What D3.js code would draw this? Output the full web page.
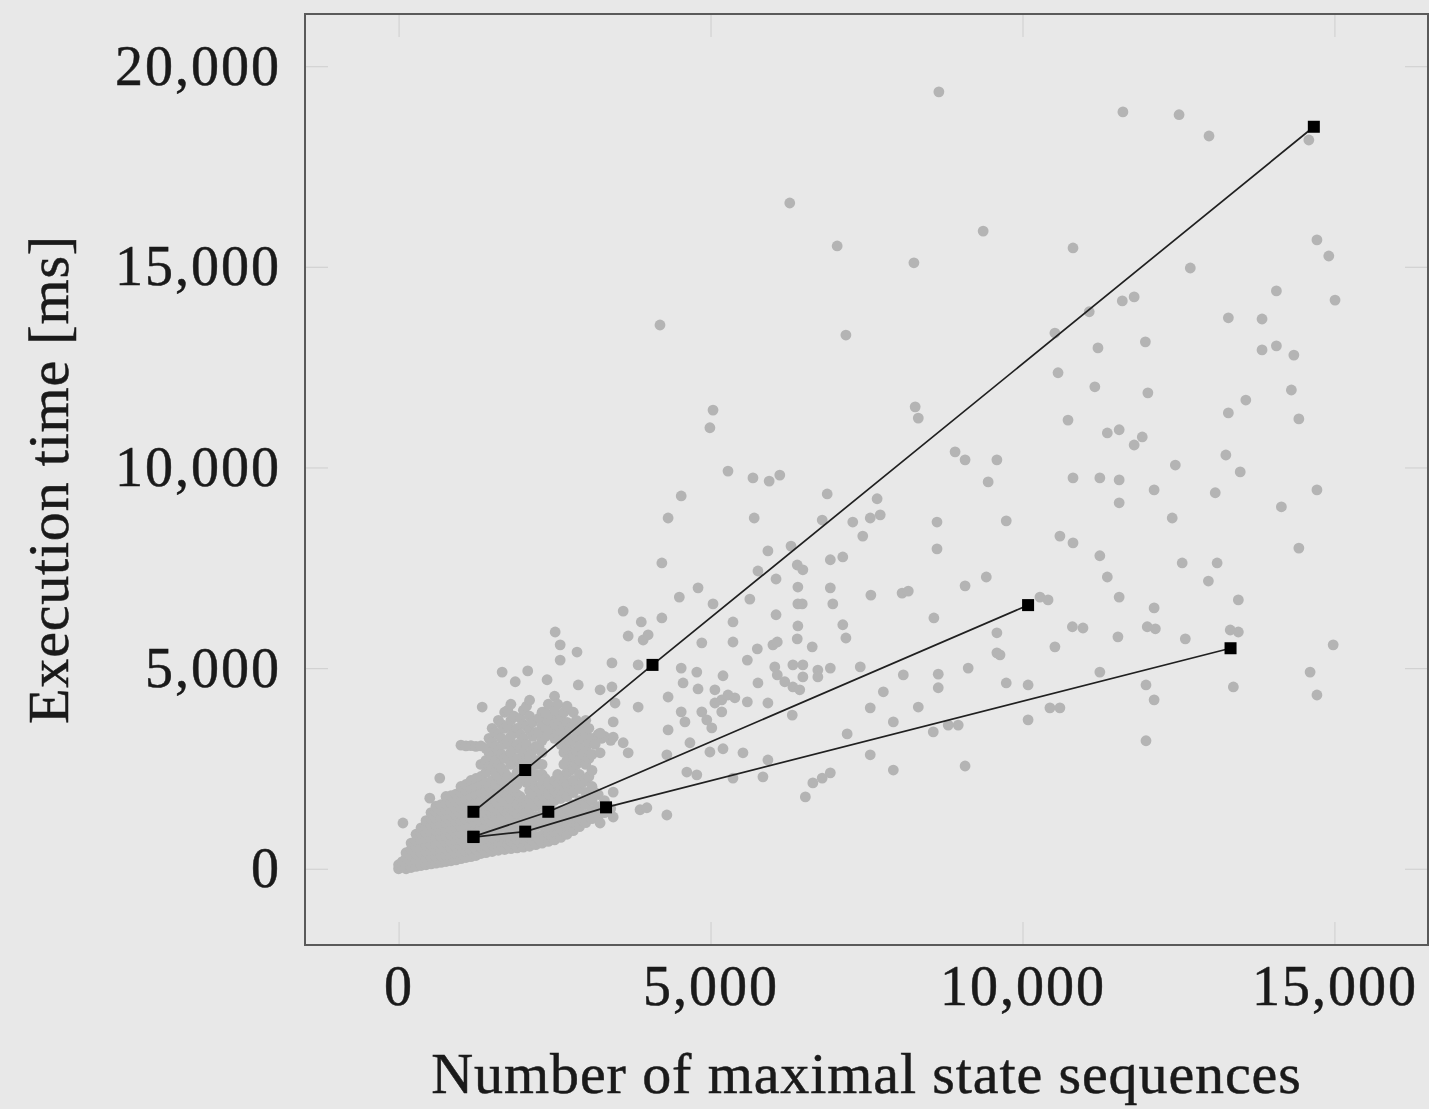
<!DOCTYPE html>
<html>
<head>
<meta charset="utf-8">
<script src="https://cdn.jsdelivr.net/npm/d3@7"></script>
<style>
  html, body { margin: 0; padding: 0; background: #e8e8e8; }
  svg { display: block; }
  text { font-family: "Liberation Serif", "DejaVu Serif", serif; fill: #1a1a1a; }
</style>
</head>
<body>
<div id="chart"></div>
<script>
// axis ticks
var xTicks = [0, 5000, 10000, 15000];
var yTicks = [0, 5000, 10000, 15000, 20000];

// the three measured series (black squares)
var seriesA = [[1200, 1420], [2030, 2460], [4070, 5080], [14670, 18490]];
var seriesB = [[1200, 800], [2400, 1420], [10090, 6570]];
var seriesC = [[1200, 790], [2030, 925], [3325, 1530], [13335, 5495]];

// individual runs (grey dots), sparse part
var samples = [
  [8660,19360],[11610,18860],[12510,18790],[12990,18260],[14590,18160],
  [6270,16590],[9370,15890],[7030,15520],[10810,15470],[8260,15100],[12690,14970],
  [14720,15670],[14910,15270],[14070,14400],[15010,14170],[11600,14150],[11790,14250],
  [11070,13880],[4190,13550],[10520,13350],[7170,13300],[13300,13730],[13840,13700],
  [11210,12980],[11970,13130],[13840,12930],[14070,13030],[14350,12800],[10570,12360],
  [11160,12010],[12010,11860],[14310,11930],[13580,11680],[13300,11360],[14430,11210],
  [10730,11180],[11360,10860],[11550,10940],[11790,10560],[11920,10760],[5040,11430],
  [4990,10990],[8280,11510],[8330,11230],[8920,10390],[9080,10190],[9590,10190],
  [9450,9640],[13260,10310],[12450,10060],[13490,9890],[10810,9740],[11240,9740],
  [11550,9690],[12110,9440],[13090,9370],[14720,9440],[11550,9120],[14150,9020],
  [9740,8670],[12400,8740],[10600,8290],[10810,8120],[14430,7990],[11240,7800],
  [11360,7270],[12560,7620],[13120,7620],[12980,7170],[11550,6770],[13460,6700],
  [10280,6770],[10410,6700],[12110,6500],[10800,6030],[10970,6000],[11530,5780],
  [12000,6030],[12130,5980],[12610,5730],[13330,5950],[13460,5900],[10520,5530],
  [9640,5330],[14980,5580],[11240,4900],[9740,4630],[10090,4580],[11980,4580],
  [13380,4530],[14610,4900],[12110,4210],[10440,4010],[10600,4010],[14720,4330],
  [10090,3710],[11980,3190],
  [5280,9910],[5680,9740],[5940,9660],[6110,9810],[4530,9290],[4320,8740],[5700,8740],
  [6870,9340],[6790,8690],[7280,8640],[7560,8740],[7720,8820],[7670,9220],[8630,8640],
  [7440,8290],[8630,7970],[4220,7620],[5920,7920],[6290,8040],[6920,7700],[7120,7770],
  [6390,7570],[6480,7450],[5760,7420],[6050,7220],[4800,7000],[4500,6770],[5040,6600],
  [5630,6720],[6400,7020],[6920,7000],[6400,6600],[6470,6600],[6960,6600],[7570,6820],
  [8070,6870],[8170,6920],[9080,7050],[9420,7270],[8580,6250],[3600,6420],[3890,6150],
  [4220,6250],[3680,5800],[3920,5700],[4000,5830],[5360,6150],[6050,6330],[6400,6050],
  [7120,6080],[7170,5750],[4860,5630],[5360,5650],[6390,5730],[6000,5580],[6070,5650],
  [5750,5480],[6630,5530],[5590,5200],[3420,5130],[3840,5080],[4530,5000],[4780,4900],
  [5200,4810],[6030,5030],[6070,4830],[6190,4660],[6320,4530],[6430,4460],[6320,5080],
  [6480,5080],[6480,4780],[6720,4950],[6920,5000],[6720,4780],[7400,5030],[8090,4830],
  [8650,4850],[9130,5000],[8650,4510],[7770,4410],[5760,4630],[4560,4630],[4800,4480],
  [5070,4460],[5180,4210],[5280,4330],[5390,4260],[5590,4160],[5070,4130],[5180,3910],
  [5920,4130],[4320,4280],[3840,4030],[3420,4530],[3470,4130],[4530,3910],[4590,3660],
  [4860,3910],[4940,3710],[5020,3510],[6310,3830],[7560,4010],[8330,4030],[7930,3660],
  [8570,3410],[8810,3580],[8970,3580],[7190,3360],[3440,3660],[4320,3460],[3230,3380],
  [3440,3280],[3600,3140],[3680,2890],[3230,2890],[4670,3140],[4990,2910],[5200,2990],
  [5520,2890],[4300,2840],[7560,2840],[5920,2710],[4620,2410],[4780,2340],[5360,2260],
  [5840,2290],[6640,2140],[6790,2260],[6920,2390],[9080,2560],[7930,2460],[6520,1790],
  [3440,1910],[3870,1470],[3980,1520],[4300,1340],[9590,5880],[9590,5380],[3230,1140],
  [3440,1290],[3230,4460],
  [2510,5900],[2590,5580],[2860,5400],[2590,5200],[1660,4900],[1870,4660],[2070,4930],
  [2380,4710],[2880,4580],[1340,4030],[70,1140],[660,2260],[500,1760]
];

// dense part near the origin: [x, y, y, ...]
var coreColumns = [
  [0, 0, 100],
  [60, 50, 180],
  [120, 0, 120, 260, 400],
  [200, 30, 170, 320, 480, 640],
  [280, 60, 210, 370, 530, 700, 860],
  [360, 80, 240, 400, 560, 720, 880, 1020],
  [440, 100, 260, 420, 580, 740, 900, 1060, 1200],
  [520, 120, 280, 440, 600, 760, 920, 1080, 1240, 1400],
  [600, 140, 300, 460, 620, 780, 940, 1100, 1260, 1420, 1560],
  [680, 160, 320, 480, 640, 800, 960, 1120, 1280, 1440, 1600],
  [760, 180, 340, 500, 660, 820, 980, 1140, 1300, 1460, 1620, 1800],
  [840, 200, 360, 520, 680, 840, 1000, 1160, 1320, 1480, 1640, 1820],
  [920, 220, 380, 540, 700, 860, 1020, 1180, 1340, 1500, 1680, 1860],
  [1000, 250, 400, 560, 720, 880, 1040, 1200, 1360, 1520, 1700, 1900, 2050, 3080],
  [1080, 280, 430, 590, 750, 910, 1070, 1230, 1400, 1560, 1740, 1950, 2100, 3060],
  [1160, 300, 460, 620, 780, 940, 1100, 1260, 1420, 1600, 1800, 2000, 2200, 3070],
  [1240, 330, 490, 650, 810, 970, 1130, 1300, 1460, 1650, 1850, 2050, 2250, 3050],
  [1320, 380, 540, 700, 860, 1020, 1180, 1350, 1520, 1700, 1900, 2100, 2300, 2600, 3060],
  [1400, 400, 560, 720, 880, 1050, 1220, 1400, 1580, 1760, 1950, 2150, 2400, 2700, 3000],
  [1450, 520, 870, 1250, 1650, 2050, 2550, 2900, 3250],
  [1500, 430, 600, 780, 960, 1150, 1340, 1540, 1750, 1950, 2200, 2500, 2800, 3150, 3500],
  [1550, 540, 900, 1300, 1700, 2100, 2400, 2700, 3050, 3400],
  [1600, 460, 640, 820, 1000, 1200, 1400, 1600, 1820, 2050, 2300, 2600, 2950, 3350, 3700],
  [1650, 560, 930, 1350, 1750, 2200, 2500, 2850, 3250, 3600],
  [1700, 480, 660, 850, 1050, 1250, 1450, 1680, 1900, 2150, 2400, 2750, 3100, 3500, 3900],
  [1750, 600, 980, 1400, 1850, 2300, 2750, 3150, 3550, 3950],
  [1800, 500, 690, 880, 1100, 1300, 1520, 1750, 2000, 2600, 2900, 3300, 3700, 4100],
  [1850, 620, 1000, 1450, 1950, 2250, 2650, 3000, 3400, 3800],
  [1900, 520, 720, 920, 1150, 1380, 1600, 1850, 2100, 2400, 2750, 3100, 3500],
  [1950, 640, 1050, 1500, 1800, 2250, 2600, 3000, 3350, 3750],
  [2000, 540, 740, 960, 1200, 1450, 1700, 2300, 2600, 2900, 3250, 3600, 3950],
  [2050, 660, 1100, 1400, 1650, 2150, 2400, 2750, 3100, 3550, 4050],
  [2100, 560, 770, 1000, 1250, 1500, 1750, 1950, 2150, 2450, 2800, 3450, 3800, 4200],
  [2150, 700, 1150, 1650, 1950, 2250, 2600, 2950, 3300, 3650],
  [2200, 600, 800, 1050, 1300, 1550, 1800, 2050, 2350, 2700, 3050, 3400],
  [2250, 740, 1200, 1700, 2000, 2300, 2600, 3050, 3400, 3750],
  [2300, 640, 840, 1080, 1350, 1600, 1850, 2100, 2350, 2600, 2900, 3200, 3550, 3900],
  [2350, 780, 1250, 1750, 2000, 2250, 3300, 3550, 3900],
  [2400, 680, 880, 1120, 1400, 1650, 1900, 2150, 3350, 3700, 4100],
  [2450, 800, 1300, 1800, 2050, 3450, 3800],
  [2500, 720, 920, 1160, 1420, 1700, 1950, 2200, 3250, 3600, 3950, 4300],
  [2550, 860, 1350, 1850, 2100, 2350, 3350, 3700, 4100],
  [2600, 780, 980, 1200, 1450, 1750, 2000, 2250, 3100, 3450, 3800],
  [2650, 920, 1400, 1900, 2150, 2300, 2600, 2900, 3200, 3550, 3900],
  [2700, 860, 1050, 1250, 1500, 1800, 2100, 2400, 2700, 3000, 3300, 3650, 4050],
  [2750, 1000, 1450, 1950, 2450, 2800, 3150, 3500],
  [2800, 950, 1150, 1350, 1600, 1900, 2200, 2500, 2850, 3200, 3550, 3900],
  [2850, 1100, 1550, 2100, 2600, 2950, 3300, 3700],
  [2900, 1050, 1250, 1450, 1700, 2000, 2350, 2700, 3050, 3450],
  [2950, 1200, 1650, 2150, 2850, 3250, 3600],
  [3000, 1150, 1350, 1600, 1900, 2200, 2600, 3000, 3350, 3700],
  [3050, 1300, 1750, 2300, 2750, 3150, 3500],
  [3100, 1250, 1450, 1700, 2050, 2450, 2850, 3250],
  [3150, 1400, 1900, 3100],
  [3200, 1300, 1550, 1850, 3350],
  [3250, 1450, 3250],
  [3300, 1400, 1700, 3300],
  [3400, 1500, 3200]
];

var W = 1429, H = 1109;
var mLeft = 305, mRight = 1428, mTop = 14, mBottom = 945;

var svg = d3.select("#chart").append("svg")
    .attr("width", W)
    .attr("height", H);

var x = d3.scaleLinear().domain([-1500, 16500]).range([mLeft, mRight]);
var y = d3.scaleLinear().domain([-1900, 21300]).range([mBottom, mTop]);

var fmt = d3.format(",");

svg.append("defs").append("clipPath").attr("id", "plotclip")
  .append("rect")
    .attr("x", mLeft).attr("y", mTop)
    .attr("width", mRight - mLeft).attr("height", mBottom - mTop);

// faint inward ticks on all four sides
function styleAxis(g) {
  g.select(".domain").remove();
  g.selectAll(".tick line").attr("stroke", "#d2d2d2").attr("stroke-width", 1.2);
  g.selectAll(".tick text")
    .style("font-family", "'Liberation Serif', serif")
    .style("font-size", "56px")
    .style("letter-spacing", "2px")
    .attr("fill", "#1a1a1a")
    .attr("stroke", "#1a1a1a")
    .attr("stroke-width", 0.5);
}

svg.append("g")
    .attr("transform", "translate(0," + mBottom + ")")
    .call(d3.axisBottom(x).tickValues(xTicks).tickFormat(fmt).tickSizeInner(-23).tickSizeOuter(0).tickPadding(20))
    .call(styleAxis);

svg.append("g")
    .attr("transform", "translate(0," + mTop + ")")
    .call(d3.axisTop(x).tickValues(xTicks).tickFormat("").tickSizeInner(-23).tickSizeOuter(0))
    .call(styleAxis);

svg.append("g")
    .attr("transform", "translate(" + mLeft + ",0)")
    .call(d3.axisLeft(y).tickValues(yTicks).tickFormat(fmt).tickSizeInner(-23).tickSizeOuter(0).tickPadding(24))
    .call(styleAxis);

svg.append("g")
    .attr("transform", "translate(" + mRight + ",0)")
    .call(d3.axisRight(y).tickValues(yTicks).tickFormat("").tickSizeInner(-23).tickSizeOuter(0))
    .call(styleAxis);

var plot = svg.append("g").attr("clip-path", "url(#plotclip)");

// flatten the dense columns
var core = [];
coreColumns.forEach(function(c) {
  for (var i = 1; i < c.length; i++) core.push([c[0], c[i]]);
});

plot.selectAll("circle.run")
    .data(core.concat(samples))
    .enter().append("circle")
    .attr("class", "run")
    .attr("cx", function(d) { return x(d[0]); })
    .attr("cy", function(d) { return y(d[1]); })
    .attr("r", 5.4)
    .attr("fill", "#b4b4b4");

var line = d3.line()
    .x(function(d) { return x(d[0]); })
    .y(function(d) { return y(d[1]); });

[seriesA, seriesB, seriesC].forEach(function(s) {
  plot.append("path")
      .datum(s)
      .attr("d", line)
      .attr("fill", "none")
      .attr("stroke", "#202020")
      .attr("stroke-width", 1.7);
});

[seriesA, seriesB, seriesC].forEach(function(s) {
  plot.selectAll(null)
      .data(s)
      .enter().append("rect")
      .attr("x", function(d) { return x(d[0]) - 6; })
      .attr("y", function(d) { return y(d[1]) - 6; })
      .attr("width", 12)
      .attr("height", 12)
      .attr("fill", "#000");
});

// frame
svg.append("rect")
    .attr("x", mLeft).attr("y", mTop)
    .attr("width", mRight - mLeft).attr("height", mBottom - mTop)
    .attr("fill", "none")
    .attr("stroke", "#5a5a5a")
    .attr("stroke-width", 2);

svg.append("text")
    .attr("x", (mLeft + mRight) / 2)
    .attr("y", 1093)
    .attr("text-anchor", "middle")
    .style("font-size", "58px")
    .style("letter-spacing", "0.9px")
    .attr("stroke", "#1a1a1a")
    .attr("stroke-width", 0.5)
    .text("Number of maximal state sequences");

svg.append("text")
    .attr("transform", "translate(68," + ((mTop + mBottom) / 2) + ") rotate(-90)")
    .attr("text-anchor", "middle")
    .style("font-size", "58px")
    .style("letter-spacing", "0.8px")
    .attr("stroke", "#1a1a1a")
    .attr("stroke-width", 0.5)
    .text("Execution time [ms]");
</script>
</body>
</html>
